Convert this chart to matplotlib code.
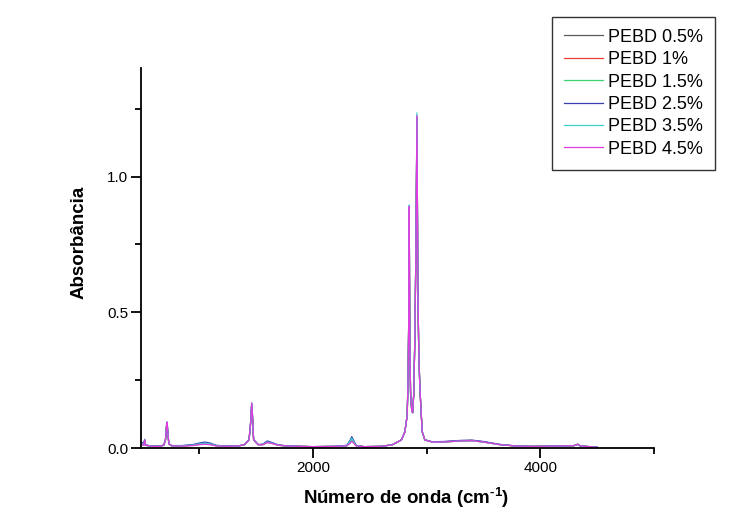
import matplotlib
matplotlib.use("Agg")
import matplotlib.pyplot as plt
from matplotlib.ticker import MultipleLocator

plt.rcParams['font.family'] = ['Liberation Sans', 'DejaVu Sans']
plt.rcParams['mathtext.fontset'] = 'custom'
plt.rcParams['mathtext.rm'] = 'Liberation Sans:bold'
plt.rcParams['mathtext.bf'] = 'Liberation Sans:bold'

# Wavenumber grid (cm-1)
wn = [
    500, 515, 522, 530, 560, 600, 650, 690, 705, 715,
    720, 725, 735, 760, 850, 950, 1000, 1050, 1100, 1150,
    1250, 1350, 1400, 1440, 1455, 1463, 1470, 1480, 1520, 1560,
    1600, 1650, 1700, 1800, 2000, 2200, 2300, 2330, 2343, 2360,
    2380, 2450, 2600, 2700, 2780, 2810, 2830, 2838, 2843, 2848,
    2853, 2860, 2870, 2878, 2888, 2898, 2906, 2916, 2924, 2932,
    2942, 2952, 2962, 2985, 3050, 3150, 3300, 3400, 3500, 3650,
    3800, 3950, 4100, 4250, 4300, 4330, 4350, 4400, 4500,
]

pebd_05 = [
    0.014, 0.012, 0.028, 0.010, 0.008, 0.006, 0.006, 0.010, 0.028, 0.080,
    0.090, 0.058, 0.015, 0.008, 0.008, 0.011, 0.015, 0.018, 0.015, 0.009,
    0.006, 0.008, 0.012, 0.030, 0.095, 0.155, 0.115, 0.030, 0.012, 0.013,
    0.022, 0.017, 0.010, 0.007, 0.005, 0.006, 0.009, 0.022, 0.030, 0.021,
    0.009, 0.005, 0.006, 0.012, 0.030, 0.060, 0.120, 0.250, 0.440, 0.870,
    0.390, 0.200, 0.140, 0.130, 0.200, 0.410, 0.690, 1.200, 0.590, 0.350,
    0.220, 0.140, 0.060, 0.030, 0.022, 0.023, 0.027, 0.028, 0.023, 0.012,
    0.007, 0.006, 0.007, 0.008, 0.009, 0.013, 0.008, 0.006, 0.003,
]

pebd_1 = [
    0.013, 0.011, 0.029, 0.010, 0.008, 0.006, 0.006, 0.010, 0.029, 0.082,
    0.092, 0.059, 0.015, 0.008, 0.007, 0.010, 0.013, 0.016, 0.013, 0.008,
    0.006, 0.008, 0.012, 0.030, 0.097, 0.160, 0.118, 0.030, 0.012, 0.012,
    0.021, 0.016, 0.010, 0.007, 0.005, 0.006, 0.009, 0.023, 0.032, 0.022,
    0.009, 0.005, 0.006, 0.012, 0.030, 0.060, 0.120, 0.250, 0.445, 0.880,
    0.395, 0.200, 0.140, 0.130, 0.200, 0.415, 0.695, 1.210, 0.595, 0.350,
    0.220, 0.140, 0.060, 0.030, 0.022, 0.022, 0.026, 0.027, 0.022, 0.012,
    0.007, 0.006, 0.007, 0.008, 0.009, 0.014, 0.008, 0.006, 0.003,
]

pebd_15 = [
    0.013, 0.011, 0.029, 0.010, 0.008, 0.006, 0.006, 0.010, 0.029, 0.083,
    0.093, 0.059, 0.015, 0.008, 0.008, 0.010, 0.014, 0.017, 0.014, 0.009,
    0.006, 0.008, 0.012, 0.030, 0.098, 0.162, 0.119, 0.030, 0.012, 0.013,
    0.022, 0.017, 0.010, 0.007, 0.005, 0.006, 0.008, 0.020, 0.028, 0.020,
    0.009, 0.005, 0.006, 0.012, 0.030, 0.060, 0.120, 0.250, 0.442, 0.875,
    0.392, 0.200, 0.140, 0.130, 0.200, 0.415, 0.695, 1.215, 0.595, 0.350,
    0.220, 0.140, 0.060, 0.030, 0.022, 0.022, 0.026, 0.027, 0.022, 0.012,
    0.007, 0.006, 0.007, 0.008, 0.009, 0.013, 0.008, 0.006, 0.003,
]

pebd_25 = [
    0.020, 0.018, 0.032, 0.012, 0.009, 0.007, 0.007, 0.011, 0.030, 0.086,
    0.096, 0.061, 0.016, 0.009, 0.009, 0.013, 0.018, 0.022, 0.018, 0.010,
    0.007, 0.008, 0.013, 0.031, 0.101, 0.166, 0.121, 0.031, 0.013, 0.014,
    0.026, 0.019, 0.011, 0.007, 0.005, 0.006, 0.010, 0.030, 0.042, 0.028,
    0.010, 0.005, 0.006, 0.012, 0.030, 0.060, 0.120, 0.250, 0.448, 0.885,
    0.398, 0.200, 0.140, 0.130, 0.200, 0.420, 0.700, 1.220, 0.600, 0.350,
    0.220, 0.140, 0.060, 0.030, 0.023, 0.024, 0.028, 0.029, 0.024, 0.013,
    0.007, 0.006, 0.007, 0.008, 0.009, 0.014, 0.008, 0.006, 0.003,
]

pebd_35 = [
    0.014, 0.012, 0.030, 0.010, 0.008, 0.006, 0.006, 0.010, 0.030, 0.085,
    0.095, 0.060, 0.015, 0.008, 0.008, 0.011, 0.015, 0.018, 0.015, 0.009,
    0.006, 0.008, 0.012, 0.030, 0.100, 0.165, 0.120, 0.030, 0.012, 0.013,
    0.022, 0.017, 0.010, 0.007, 0.005, 0.006, 0.009, 0.026, 0.036, 0.024,
    0.009, 0.005, 0.006, 0.012, 0.030, 0.060, 0.120, 0.250, 0.452, 0.895,
    0.402, 0.200, 0.140, 0.130, 0.200, 0.420, 0.705, 1.235, 0.605, 0.350,
    0.220, 0.140, 0.060, 0.030, 0.022, 0.022, 0.026, 0.027, 0.022, 0.012,
    0.007, 0.006, 0.007, 0.008, 0.009, 0.014, 0.008, 0.006, 0.003,
]

pebd_45 = [
    0.012, 0.010, 0.030, 0.010, 0.008, 0.006, 0.006, 0.010, 0.030, 0.085,
    0.095, 0.060, 0.015, 0.008, 0.007, 0.009, 0.012, 0.014, 0.012, 0.008,
    0.006, 0.008, 0.012, 0.030, 0.100, 0.165, 0.120, 0.030, 0.012, 0.012,
    0.020, 0.016, 0.010, 0.007, 0.005, 0.006, 0.008, 0.018, 0.025, 0.018,
    0.008, 0.005, 0.006, 0.012, 0.030, 0.060, 0.120, 0.250, 0.450, 0.890,
    0.400, 0.200, 0.140, 0.130, 0.200, 0.420, 0.700, 1.225, 0.600, 0.350,
    0.220, 0.140, 0.060, 0.030, 0.022, 0.022, 0.026, 0.027, 0.022, 0.012,
    0.007, 0.006, 0.007, 0.008, 0.009, 0.014, 0.008, 0.006, 0.003,
]

labels = ["PEBD 0.5%", "PEBD 1%", "PEBD 1.5%", "PEBD 2.5%", "PEBD 3.5%", "PEBD 4.5%"]
series = [pebd_05, pebd_1, pebd_15, pebd_25, pebd_35, pebd_45]
colors = ['#5a5a5a', '#f03c3c', '#3cd26e', '#3c3cb4', '#3cd2d2', '#e03ce0']

fig = plt.figure(figsize=(7.44, 5.29), dpi=100)
ax = fig.add_axes([141/744, 1 - 448/529, 513/744, 380/529])

for ys, lab, c in zip(series, labels, colors):
    ax.plot(wn, ys, color=c, lw=0.9, label=lab)

ax.set_xlim(490, 5000)
ax.set_ylim(0, 1.4)
ax.xaxis.set_major_locator(MultipleLocator(2000))
ax.xaxis.set_minor_locator(MultipleLocator(1000))
ax.yaxis.set_major_locator(MultipleLocator(0.5))
ax.yaxis.set_minor_locator(MultipleLocator(0.25))

for s in ['top', 'right']:
    ax.spines[s].set_visible(False)
for s in ['left', 'bottom']:
    ax.spines[s].set_linewidth(1.3)

ax.tick_params(which='major', direction='out', length=7, width=1.3, labelsize=11, pad=2)
ax.tick_params(which='minor', direction='out', length=4, width=1.3)

ax.set_xlabel("Número de onda (cm$^{\\text{-1}}$)", fontsize=13.5, fontweight='bold')
ax.set_ylabel("Absorbância", fontsize=13.5, fontweight='bold')
ax.xaxis.set_label_coords(0.517, -0.097)
ax.yaxis.set_label_coords(-0.105, 0.54)

leg = fig.legend(loc='upper right', bbox_to_anchor=(715/744, 1 - 17/529),
                 fontsize=13, frameon=True, fancybox=False, borderpad=0.65,
                 handlelength=2.15, handletextpad=0.3, labelspacing=0.3,
                 borderaxespad=0)
leg.get_frame().set_edgecolor('black')
leg.get_frame().set_linewidth(1.0)

fig.savefig("out.png", dpi=100, facecolor='white')
